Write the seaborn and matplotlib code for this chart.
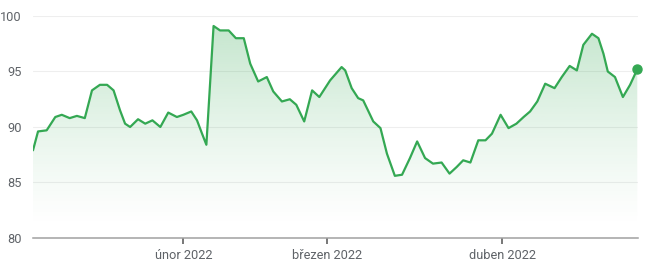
import numpy as np
import pandas as pd
import matplotlib
matplotlib.use("Agg")
import matplotlib.pyplot as plt
import seaborn as sns

# trading-session index (x) and price (y)
session = [0.0, 0.7, 1.9, 3.1, 4.0, 5.1, 6.1, 7.2, 8.2, 9.3, 10.3, 11.2, 12.1, 12.8,
           13.5, 14.6, 15.6, 16.6, 17.7, 18.8, 20.0, 20.9, 22.0, 22.8, 23.5, 24.1,
           25.1, 26.0, 27.2, 28.2, 29.3, 30.2, 31.3, 32.5, 33.4, 34.6, 35.7, 36.6,
           37.7, 38.8, 39.8, 41.3, 42.9, 43.4, 44.3, 45.2, 45.9, 47.3, 48.3, 49.2,
           50.3, 51.3, 52.4, 53.4, 54.5, 55.6, 56.8, 57.9, 58.9, 59.8, 60.8, 61.9,
           62.9, 63.8, 65.0, 66.1, 67.2, 68.2, 69.1, 70.1, 71.2, 72.5, 73.5, 74.6,
           75.6, 76.5, 77.7, 78.6, 79.3, 79.9, 80.9, 82.0, 83.0, 84.0]
price = [87.9, 89.6, 89.7, 90.9, 91.1, 90.8, 91.0, 90.8, 93.3, 93.8, 93.8, 93.3, 91.5, 90.3,
         90.0, 90.7, 90.3, 90.6, 90.0, 91.3, 90.9, 91.1, 91.4, 90.6, 89.4, 88.4,
         99.1, 98.7, 98.7, 98.0, 98.0, 95.7, 94.1, 94.5, 93.2, 92.3, 92.5, 92.0,
         90.5, 93.3, 92.7, 94.2, 95.4, 95.1, 93.5, 92.6, 92.4, 90.5, 89.9, 87.6,
         85.6, 85.7, 87.2, 88.7, 87.2, 86.7, 86.8, 85.8, 86.4, 87.0, 86.8, 88.8,
         88.8, 89.4, 91.1, 89.9, 90.3, 90.9, 91.4, 92.3, 93.9, 93.5, 94.5, 95.5,
         95.1, 97.4, 98.4, 98.0, 96.6, 95.0, 94.5, 92.7, 93.8, 95.2]
month_pos = [20.9, 40.9, 65.2]
month_labels = ["únor 2022", "březen 2022", "duben 2022"]
y_ticks = [80, 85, 90, 95, 100]

df = pd.DataFrame({"session": session, "price": price})

GREEN = "#34a853"
LABEL = "#5f6368"

sns.set_style("white")
plt.rcParams["font.family"] = ["Roboto", "DejaVu Sans"]

fig = plt.figure(figsize=(6.5, 2.69), dpi=100)
ax = fig.add_axes([33 / 650, 1 - 238 / 269, (638 - 33) / 650, (238 - 16) / 269])

x0, x1 = df["session"].min(), df["session"].max()
ax.set_xlim(x0, x1 + 0.1)
ax.set_ylim(80, 100)

# gradient fill under the line
vals = np.linspace(80, 100, 300)
alpha = 0.30 * np.clip((vals - 81) / 19, 0, 1) ** 1.2
rgba = np.zeros((300, 1, 4))
rgba[..., 0], rgba[..., 1], rgba[..., 2] = 0x34 / 255, 0xa8 / 255, 0x53 / 255
rgba[:, 0, 3] = alpha
poly = ax.fill_between(df["session"], df["price"], 80, color="none", lw=0)
im = ax.imshow(rgba, extent=[x0, x1, 80, 100], aspect="auto", origin="lower",
               zorder=1, interpolation="bilinear")
im.set_clip_path(poly.get_paths()[0], transform=ax.transData)

# grid
for v in y_ticks[1:]:
    ax.axhline(v, color="#eeeeee", lw=0.8, zorder=0)

sns.lineplot(data=df, x="session", y="price", ax=ax, color=GREEN, lw=1.6,
             zorder=3, solid_joinstyle="round", solid_capstyle="round")
ax.plot([df["session"].iloc[-1]], [df["price"].iloc[-1]], "o", color=GREEN,
        ms=6.5, zorder=4, clip_on=False)

for s in ["top", "right", "left"]:
    ax.spines[s].set_visible(False)
ax.spines["bottom"].set_color("#a0a0a0")
ax.spines["bottom"].set_linewidth(1.1)

ax.set_yticks(y_ticks)
ax.set_yticklabels([str(v) for v in y_ticks])
ax.set_xticks(month_pos)
ax.set_xticklabels(month_labels)
ax.tick_params(axis="y", left=False, length=0, pad=8, labelsize=9.2, labelcolor=LABEL)
ax.tick_params(axis="x", bottom=True, length=4, width=1.2, color="#606060", pad=4,
               labelsize=9.2, labelcolor=LABEL, direction="out")
ax.set_xlabel("")
ax.set_ylabel("")

fig.savefig("out.png", dpi=100, facecolor="white")
